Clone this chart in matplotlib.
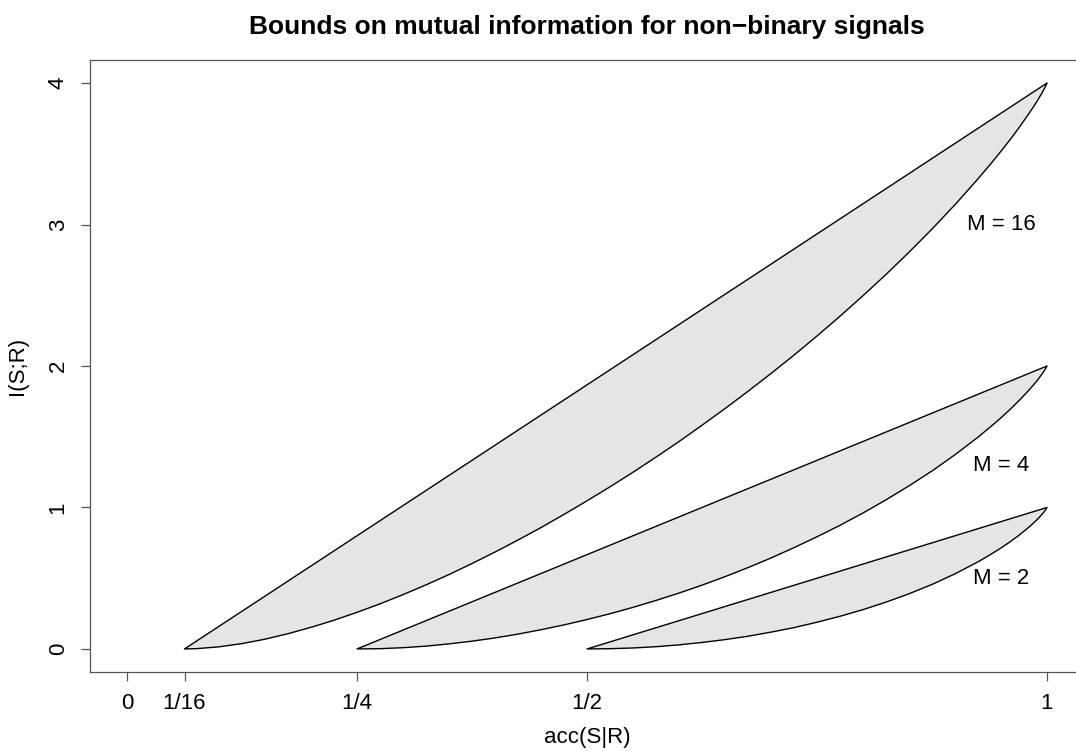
import matplotlib.pyplot as plt

plt.rcParams['font.family'] = ['Liberation Sans', 'DejaVu Sans']

# accuracy values (x) and lower bound values (y)
m_values = [2, 4, 16]
label_text = ['M = 2', 'M = 4', 'M = 16']
label_x = [0.95, 0.95, 0.95]
label_y = [0.5, 1.3, 3.0]

acc_m2 = [0.5, 0.525, 0.55, 0.575, 0.6, 0.625, 0.65, 0.675, 0.7, 0.725,
          0.75, 0.775, 0.8, 0.825, 0.85, 0.875, 0.9, 0.925, 0.94, 0.95,
          0.96, 0.97, 0.98, 0.985, 0.99, 0.995, 0.9975, 0.999, 1.0]
low_m2 = [0.0, 0.002, 0.007, 0.016, 0.029, 0.046, 0.066, 0.090, 0.119, 0.151,
          0.189, 0.231, 0.278, 0.331, 0.390, 0.456, 0.531, 0.616, 0.673, 0.714,
          0.758, 0.806, 0.859, 0.888, 0.919, 0.955, 0.975, 0.989, 1.0]

acc_m4 = [0.25, 0.275, 0.3, 0.325, 0.35, 0.375, 0.4, 0.425, 0.45, 0.475,
          0.5, 0.525, 0.55, 0.575, 0.6, 0.625, 0.65, 0.675, 0.7, 0.725,
          0.75, 0.775, 0.8, 0.825, 0.85, 0.875, 0.9, 0.925, 0.94, 0.95,
          0.96, 0.97, 0.98, 0.985, 0.99, 0.995, 0.9975, 0.999, 1.0]
low_m4 = [0.0, 0.002, 0.009, 0.020, 0.036, 0.055, 0.078, 0.105, 0.136, 0.170,
          0.208, 0.249, 0.294, 0.343, 0.395, 0.451, 0.511, 0.575, 0.643, 0.716,
          0.793, 0.874, 0.961, 1.054, 1.153, 1.258, 1.373, 1.497, 1.578, 1.634,
          1.694, 1.758, 1.827, 1.864, 1.903, 1.947, 1.971, 1.987, 2.0]

acc_m16 = [0.0625, 0.075, 0.1, 0.125, 0.15, 0.175, 0.2, 0.225, 0.25, 0.275,
           0.3, 0.325, 0.35, 0.375, 0.4, 0.425, 0.45, 0.475, 0.5, 0.525,
           0.55, 0.575, 0.6, 0.625, 0.65, 0.675, 0.7, 0.725, 0.75, 0.775,
           0.8, 0.825, 0.85, 0.875, 0.9, 0.925, 0.94, 0.95, 0.96, 0.97,
           0.98, 0.985, 0.99, 0.995, 0.9975, 0.999, 1.0]
low_m16 = [0.0, 0.002, 0.015, 0.038, 0.069, 0.108, 0.153, 0.203, 0.259, 0.319,
           0.384, 0.453, 0.526, 0.604, 0.685, 0.770, 0.858, 0.951, 1.047, 1.146,
           1.249, 1.356, 1.466, 1.581, 1.699, 1.821, 1.947, 2.077, 2.212, 2.352,
           2.497, 2.647, 2.804, 2.968, 3.140, 3.323, 3.438, 3.518, 3.601, 3.688,
           3.781, 3.829, 3.880, 3.935, 3.965, 3.985, 4.0]

# upper bound: straight from (1/M, 0) to (1, log2 M)
upper_x = [[0.5, 1.0], [0.25, 1.0], [0.0625, 1.0]]
upper_y = [[0.0, 1.0], [0.0, 2.0], [0.0, 4.0]]

acc_list = [acc_m2, acc_m4, acc_m16]
low_list = [low_m2, low_m4, low_m16]

x_ticks = [0, 1/16, 1/4, 1/2, 1]
x_tick_labels = ['0', '1/16', '1/4', '1/2', '1']
y_ticks = [0, 1, 2, 3, 4]

fig = plt.figure(figsize=(10.76, 7.51), dpi=100)
ax = fig.add_axes([90.2/1076, 1 - 671.6/751, 993.6/1076, 611.2/751])

for i in range(len(m_values)):
    poly_x = upper_x[i] + acc_list[i][::-1]
    poly_y = upper_y[i] + low_list[i][::-1]
    ax.fill(poly_x, poly_y, facecolor='#e5e5e5', edgecolor='black',
            linewidth=1.0, joinstyle='round')
    ax.text(label_x[i], label_y[i], label_text[i], ha='center', va='center', fontsize=16)

ax.set_xlim(-0.04, 1.04)
ax.set_ylim(-0.16, 4.16)
ax.set_xticks(x_ticks)
ax.set_xticklabels(x_tick_labels)
ax.set_yticks(y_ticks)
ax.set_yticklabels([str(v) for v in y_ticks], rotation=90, va='center')
ax.tick_params(direction='out', length=6.5, width=0.9, pad=9, labelsize=16,
               color='#555555', labelcolor='black')
for side in ax.spines.values():
    side.set_linewidth(0.9)
    side.set_color('#555555')

fig.text(587/1076, 1 - 27/751, 'Bounds on mutual information for non\u2212binary signals',
         ha='center', va='center', fontsize=19, fontweight='bold')
fig.text(587/1076, 1 - 738/751, 'acc(S|R)', ha='center', va='center', fontsize=16)
fig.text(18/1076, 1 - 366/751, 'I(S;R)', ha='center', va='center', fontsize=16, rotation=90)

fig.savefig('out.png', dpi=100)
